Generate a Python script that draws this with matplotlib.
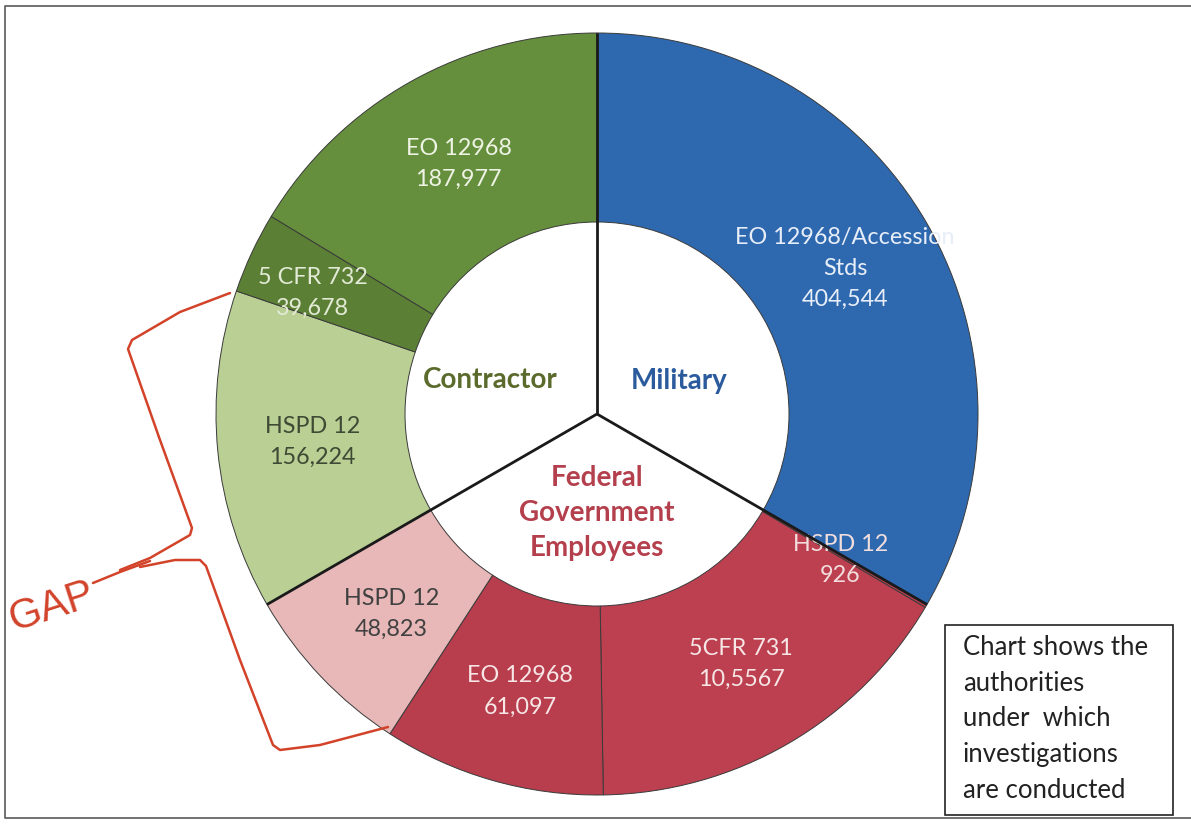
import matplotlib
matplotlib.use("Agg")
import matplotlib.pyplot as plt
import numpy as np
from matplotlib.patches import Rectangle

# ---------------- data ----------------
group_names = ["Military", "Federal\nGovernment\nEmployees", "Contractor"]
# segments clockwise from 12 o'clock
seg_group = [0, 1, 1, 1, 1, 2, 2, 2]
seg_names = ["EO 12968/Accession\nStds", "HSPD 12", "5CFR 731", "EO 12968",
             "HSPD 12", "HSPD 12", "5 CFR 732", "EO 12968"]
seg_values = [404544, 926, 105567, 61097, 48823, 156224, 39678, 187977]
seg_value_text = ["404,544", "926", "10,5567", "61,097", "48,823",
                  "156,224", "39,678", "187,977"]
note_text = "Chart shows the\nauthorities\nunder  which\ninvestigations\nare conducted"

# ---------------- style ----------------
seg_colors = ["#2e69b0", "#bc4050", "#bc4050", "#b83d4d", "#e8b8b8",
              "#b9cf93", "#5b8035", "#658f3d"]
seg_text_colors = ["#e8eef8", "#f3dede", "#f6e6e6", "#f6e6e6", "#404040",
                   "#3f4a35", "#e3ead6", "#eef3e4"]
group_colors = ["#2b5b9c", "#b4404d", "#5a6b2c"]
label_offsets = [(0, 2), (-4, -2), (0, -2), (2, -2), (2, -3), (1, 0), (-25, 0), (2, 0)]

W, H = 1191, 824
fig = plt.figure(figsize=(W / 100, H / 100), dpi=100)
ax = fig.add_axes([0, 0, 1, 1])
ax.axis("off")

def P(x, y):
    return x, H - y

cx, cy = P(597, 414)
R_out, R_in = 381, 192

group_tot = [sum(v for v, g in zip(seg_values, seg_group) if g == k) for k in range(3)]
sizes = [v / group_tot[g] for v, g in zip(seg_values, seg_group)]

wedges, _ = ax.pie(sizes, startangle=90, counterclock=False, radius=R_out,
                   center=(cx, cy), colors=seg_colors, normalize=True,
                   wedgeprops=dict(width=R_out - R_in, edgecolor="#3a3a3a",
                                   linewidth=0.7))
ax.set_xlim(0, W)
ax.set_ylim(0, H)
ax.set_aspect("equal")

font = "Lato"
r_mid = (R_out + R_in) / 2
for i, w in enumerate(wedges):
    ang = np.deg2rad((w.theta1 + w.theta2) / 2)
    x = cx + r_mid * np.cos(ang) + label_offsets[i][0]
    y = cy + r_mid * np.sin(ang) + label_offsets[i][1]
    t = ax.text(x, y, seg_names[i] + "\n" + seg_value_text[i], ha="center",
                va="center", fontsize=16.8, color=seg_text_colors[i],
                family=font, linespacing=1.58, zorder=5)
    if i == 0:
        t.set_clip_path(w)

# group dividers at group boundaries
cum = np.cumsum([0] + sizes) / sum(sizes)
for i in range(len(sizes)):
    if i == 0 or seg_group[i] != seg_group[i - 1]:
        a = np.deg2rad(90 - 360 * cum[i])
        ax.plot([cx, cx + R_out * np.cos(a)], [cy, cy + R_out * np.sin(a)],
                color="#1a1a1a", lw=2.0, zorder=6, solid_capstyle="butt")

# group labels in the hole
grp_pos = [(679, 381), (597, 513), (490, 380)]
for k in range(3):
    x, y = P(*grp_pos[k])
    ax.text(x, y, group_names[k], ha="center", va="center", fontsize=20,
            fontweight="bold", color=group_colors[k], family=font,
            linespacing=1.42, zorder=7)

# note box
bx0, by0 = P(945, 815)
ax.add_patch(Rectangle((bx0, by0), 228, 190, fill=False, edgecolor="#222222",
                       lw=1.2, zorder=4))
tx, ty = P(963, 719)
ax.text(tx, ty, note_text, ha="left", va="center", fontsize=18.5,
        color="#222222", family=font, linespacing=1.53, zorder=5)

# outer frame
fr = [P(1191, 6), P(5, 6), P(5, 818), P(1191, 818)]
ax.plot([p[0] for p in fr], [p[1] for p in fr], color="#666666", lw=1.3)

# hand-drawn GAP annotation
red = "#d2432a"
upper = [(230, 293), (180, 312), (132, 340), (128, 349), (160, 440),
         (192, 528), (190, 535), (150, 558), (120, 570)]
lower = [(140, 567), (175, 560), (200, 560), (206, 566), (240, 660),
         (273, 745), (280, 750), (320, 745), (388, 727)]
gapline = [(150, 561), (120, 572), (93, 583)]
for pts in (upper, lower, gapline):
    xs, ys = zip(*[P(*p) for p in pts])
    ax.plot(xs, ys, color=red, lw=1.8, solid_joinstyle="round",
            solid_capstyle="round", zorder=8)
gx, gy = P(52, 607)
ax.text(gx, gy, "GAP", rotation=18, ha="center", va="center", fontsize=30,
        color=red, family="Liberation Sans", zorder=8)

fig.savefig("out.png", dpi=100)
